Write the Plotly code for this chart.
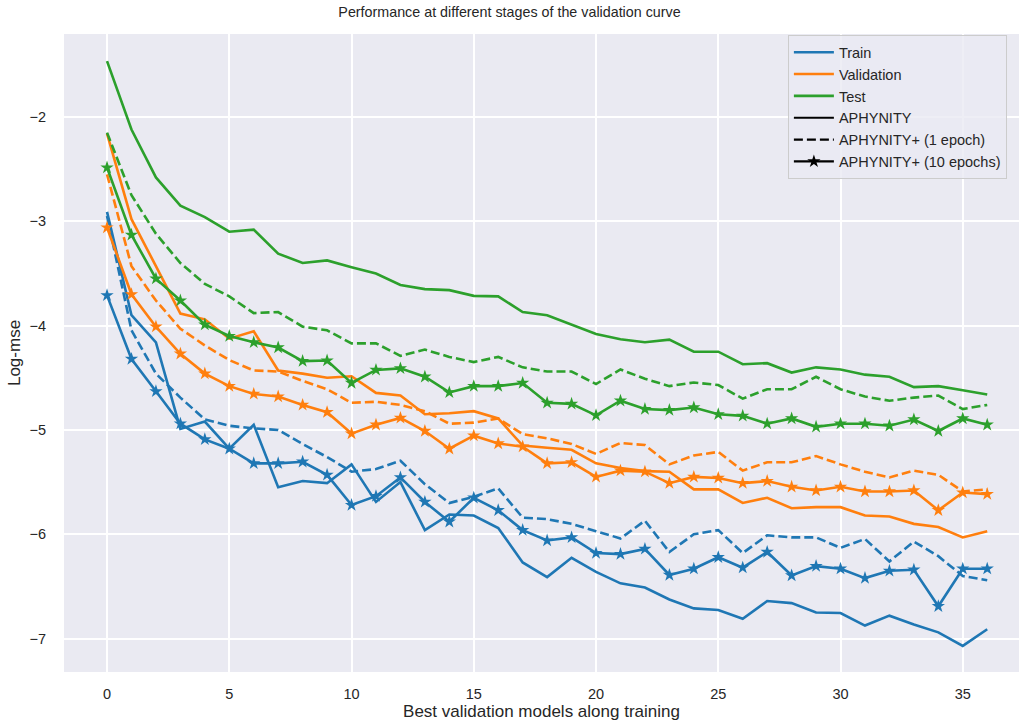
import plotly.graph_objects as go

steps = list(range(37))

train_aph = [-2.91, -3.90, -4.16, -4.99, -4.92, -5.18, -4.95, -5.55, -5.49, -5.51, -5.33, -5.69, -5.50,
             -5.96, -5.81, -5.82, -5.94, -6.27, -6.41, -6.225, -6.36, -6.47, -6.51, -6.625, -6.71, -6.725,
             -6.81, -6.64, -6.66, -6.75, -6.755, -6.875, -6.78, -6.865, -6.94, -7.07, -6.91]
train_1ep = [-2.95, -4.045, -4.46, -4.69, -4.90, -4.96, -4.985, -5.00, -5.135, -5.26, -5.40, -5.375, -5.295,
             -5.52, -5.70, -5.64, -5.56, -5.84, -5.855, -5.90, -5.97, -6.04, -5.87, -6.17, -6.00, -5.96,
             -6.18, -6.01, -6.03, -6.03, -6.13, -6.045, -6.26, -6.07, -6.21, -6.40, -6.44]
train_10ep = [-3.71, -4.32, -4.63, -4.94, -5.09, -5.18, -5.32, -5.32, -5.305, -5.43, -5.72, -5.635, -5.455,
              -5.69, -5.88, -5.65, -5.77, -5.96, -6.06, -6.03, -6.18, -6.19, -6.14, -6.39, -6.33, -6.22,
              -6.32, -6.17, -6.395, -6.305, -6.33, -6.42, -6.35, -6.34, -6.69, -6.33, -6.33]

val_aph = [-2.16, -2.98, -3.43, -3.885, -3.94, -4.125, -4.055, -4.43, -4.46, -4.50, -4.485, -4.645, -4.67,
           -4.85, -4.84, -4.82, -4.89, -5.15, -5.17, -5.19, -5.32, -5.365, -5.395, -5.40, -5.57, -5.57,
           -5.70, -5.65, -5.75, -5.74, -5.74, -5.82, -5.83, -5.90, -5.93, -6.03, -5.97]
val_1ep = [-2.55, -3.43, -3.76, -4.03, -4.19, -4.33, -4.43, -4.44, -4.53, -4.61, -4.74, -4.73, -4.76,
           -4.82, -4.94, -4.93, -4.89, -5.04, -5.08, -5.135, -5.23, -5.125, -5.145, -5.33, -5.245, -5.21,
           -5.39, -5.31, -5.31, -5.25, -5.33, -5.40, -5.455, -5.39, -5.43, -5.59, -5.57]
val_10ep = [-3.06, -3.70, -4.01, -4.27, -4.46, -4.58, -4.655, -4.68, -4.76, -4.83, -5.035, -4.95, -4.885,
            -5.01, -5.18, -5.055, -5.13, -5.16, -5.32, -5.31, -5.45, -5.39, -5.40, -5.51, -5.45, -5.46,
            -5.51, -5.49, -5.545, -5.58, -5.545, -5.59, -5.59, -5.58, -5.77, -5.60, -5.615]

test_aph = [-1.465, -2.12, -2.58, -2.85, -2.96, -3.10, -3.08, -3.31, -3.40, -3.375, -3.44, -3.50, -3.61,
            -3.65, -3.66, -3.715, -3.72, -3.87, -3.90, -3.99, -4.08, -4.13, -4.16, -4.135, -4.25, -4.25,
            -4.37, -4.36, -4.45, -4.40, -4.42, -4.47, -4.49, -4.59, -4.58, -4.62, -4.66]
test_1ep = [-2.15, -2.75, -3.12, -3.40, -3.60, -3.72, -3.88, -3.87, -4.01, -4.045, -4.17, -4.17, -4.29,
            -4.23, -4.30, -4.35, -4.30, -4.40, -4.44, -4.44, -4.56, -4.42, -4.51, -4.58, -4.545, -4.57,
            -4.70, -4.61, -4.61, -4.49, -4.61, -4.68, -4.72, -4.69, -4.67, -4.80, -4.76]
test_10ep = [-2.485, -3.13, -3.55, -3.76, -3.99, -4.10, -4.16, -4.21, -4.34, -4.335, -4.55, -4.425, -4.41,
             -4.49, -4.64, -4.58, -4.58, -4.55, -4.74, -4.75, -4.86, -4.72, -4.80, -4.81, -4.785, -4.85,
             -4.865, -4.94, -4.89, -4.97, -4.94, -4.94, -4.96, -4.90, -5.01, -4.89, -4.95]

series = {
    'Train': ('#1f77b4', [train_aph, train_1ep, train_10ep]),
    'Validation': ('#ff7f0e', [val_aph, val_1ep, val_10ep]),
    'Test': ('#2ca02c', [test_aph, test_1ep, test_10ep]),
}
methods = ['APHYNITY', 'APHYNITY+ (1 epoch)', 'APHYNITY+ (10 epochs)']
styles = {
    'APHYNITY': dict(mode='lines', dash='solid'),
    'APHYNITY+ (1 epoch)': dict(mode='lines', dash='9px,4px'),
    'APHYNITY+ (10 epochs)': dict(mode='lines+markers', dash='solid'),
}

font_family = 'Liberation Sans, Arial, sans-serif'
fig = go.Figure()

for name, (color, curves) in series.items():
    for method, values in zip(methods, curves):
        st = styles[method]
        fig.add_trace(go.Scatter(
            x=steps, y=values, mode=st['mode'], showlegend=False,
            name=f'{name} - {method}',
            line=dict(color=color, width=2.6, dash=st['dash']),
            marker=dict(symbol='star', size=10, color=color),
        ))

# legend-only entries
for name, (color, _) in series.items():
    fig.add_trace(go.Scatter(x=[None], y=[None], mode='lines', name=name,
                             line=dict(color=color, width=2.6)))
for method in methods:
    st = styles[method]
    fig.add_trace(go.Scatter(x=[None], y=[None], mode=st['mode'], name=method,
                             line=dict(color='black', width=2.2, dash=st['dash']),
                             marker=dict(symbol='star', size=10, color='black')))

fig.update_layout(
    template='none',
    width=1019, height=723,
    margin=dict(l=64, r=0, t=34, b=51),
    paper_bgcolor='white',
    plot_bgcolor='#EAEAF2',
    font=dict(family=font_family, size=14.5, color='#262626'),
    title=dict(text='Performance at different stages of the validation curve',
               x=0.5, xanchor='center', y=0.983, yanchor='middle',
               font=dict(size=14.3, color='#262626')),
    xaxis=dict(range=[-1.76, 37.3], tickvals=[0, 5, 10, 15, 20, 25, 30, 35],
               showgrid=True, gridcolor='white', gridwidth=1.5, zeroline=False,
               showline=False, ticks='outside', ticklen=9, tickcolor='rgba(0,0,0,0)',
               title=dict(text='Best validation models along training', standoff=2)),
    yaxis=dict(range=[-7.32, -1.205], tickvals=[-7, -6, -5, -4, -3, -2],
               showgrid=True, gridcolor='white', gridwidth=1.5, zeroline=False,
               showline=False, ticks='outside', ticklen=14, tickcolor='rgba(0,0,0,0)',
               title=dict(text='Log-mse', standoff=4)),
    legend=dict(x=0.758, y=0.998, xanchor='left', yanchor='top',
                bgcolor='rgba(234,234,242,0.8)', bordercolor='#cccccc', borderwidth=1,
                font=dict(size=14.5, color='#262626'), tracegroupgap=0, itemwidth=40),
)

fig.write_html('out.html', config={'displayModeBar': False},
               post_script="document.body.style.margin='0';")
